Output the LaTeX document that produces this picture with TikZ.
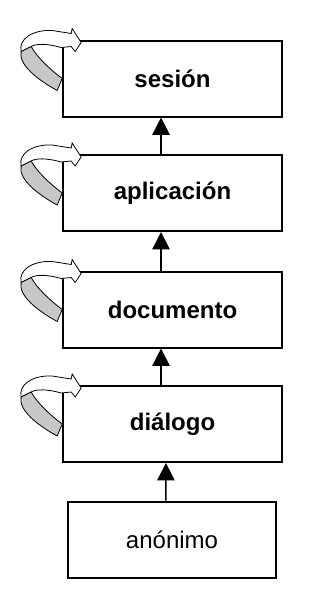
\documentclass[tikz,border=0pt]{standalone}
\usepackage{fontspec}
\setmainfont{Liberation Sans}
\usetikzlibrary{arrows.meta}
\tikzset{
  layer/.style={
    shape=rectangle,
    draw,
    line width=1.5pt,
    font=\fontsize{18}{21}\selectfont\bfseries,
    minimum width=164pt,
    minimum height=57pt,
  },
  up/.style={
  line width=1.2pt, -{Triangle[width=13pt,length=13pt]}
  },
  selftop/.style={
  draw, fill=white, line width=0.6pt
  },
  selfside/.style={
  draw, fill=black!22, line width=0.6pt
  }
}

\begin{document}
\begin{tikzpicture}[x=0.75pt,y=-0.75pt]
\useasboundingbox (0,0) rectangle (324,604);

% Layers
\node[layer] (sesion) at (172.5,78.5) {sesión};
\node[layer] (aplicacion) at (172.5,193) {aplicación};
\node[layer] (documento) at (172.5,309.5) {documento};
\node[layer] (dialogo) at (172.5,424) {diálogo};
\node[layer, minimum width=156pt, font=\fontsize{18}{21}\selectfont] (anonimo) at (172,539.5) {anónimo};

% Arrows
\draw[up] ([xshift=-8.6pt]aplicacion.north) -- ([xshift=-8.6pt]sesion.south);
\draw[up] ([xshift=-8.6pt]documento.north) -- ([xshift=-8.6pt]aplicacion.south);
\draw[up] ([xshift=-8.6pt]dialogo.north) -- ([xshift=-8.6pt]documento.south);
\draw[up] ([xshift=-4.6pt]anonimo.north) -- ([xshift=-4.9pt]dialogo.south);

% Loops
\foreach \b in {sesion, aplicacion, documento, dialogo} {
  \begin{scope}[shift={(\b.north west)}]
    \path[selftop] (-41,12) .. controls (-44,0) and (-30,-10) .. (-10,-9) -- (9,-6)
      -- (10,-11) -- (19,3) -- (13,12) -- (9,7) -- (-1,8)
      .. controls (-15,4) and (-26,4) .. (-31,7) -- cycle;
    \path[selfside] (-41,12) .. controls (-44,25) and (-25,40) .. (-5,51) -- (0,39)
      .. controls (-12,30) and (-25,18) .. (-31,7) -- cycle;
  \end{scope}
}

\end{tikzpicture}
\end{document}
